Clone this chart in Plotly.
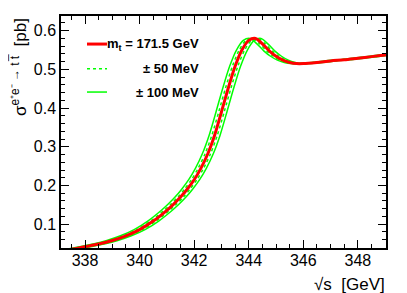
import plotly.graph_objects as go

# Central curve (m_t = 171.5 GeV)
sqrt_s = [337.0, 337.5, 338.0, 338.5, 339.0, 339.5, 340.0, 340.5, 341.0, 341.25,
          341.5, 341.75, 342.0, 342.25, 342.5, 342.75, 343.0, 343.25, 343.5,
          343.75, 344.0, 344.25, 344.5, 344.75, 345.0, 345.25, 345.5, 345.75,
          346.0, 346.5, 347.0, 347.5, 348.0, 348.5, 349.0, 349.5]
sigma = [0.030, 0.035, 0.042, 0.049, 0.058, 0.070, 0.086, 0.108, 0.136, 0.152,
         0.170, 0.191, 0.215, 0.245, 0.282, 0.330, 0.390, 0.452, 0.508,
         0.550, 0.575, 0.580, 0.566, 0.548, 0.534, 0.524, 0.518, 0.515,
         0.515, 0.518, 0.522, 0.525, 0.529, 0.533, 0.537, 0.541]

# mass variations (GeV) -> threshold shift in sqrt(s) of 2*dm
dm_dotted = [-0.050, 0.050]
dm_solid = [-0.100, 0.100]

x_ticks = [338, 340, 342, 344, 346, 348]
y_ticks = [0.1, 0.2, 0.3, 0.4, 0.5, 0.6]

GREEN = "#00ff00"
RED = "#ff0000"
FONT = "Liberation Sans, Arial, Helvetica, sans-serif"

fig = go.Figure()
for dm in dm_solid:
    fig.add_trace(go.Scatter(x=[v + 2 * dm for v in sqrt_s], y=sigma, mode="lines",
                             line=dict(color=GREEN, width=1.5, shape="spline", smoothing=0.8),
                             showlegend=False, hoverinfo="skip"))
for dm in dm_dotted:
    fig.add_trace(go.Scatter(x=[v + 2 * dm for v in sqrt_s], y=sigma, mode="lines",
                             line=dict(color=GREEN, width=1.5, dash="dot", shape="spline",
                                       smoothing=0.8),
                             showlegend=False, hoverinfo="skip"))
fig.add_trace(go.Scatter(x=sqrt_s, y=sigma, mode="lines",
                         line=dict(color=RED, width=3, shape="spline", smoothing=0.8),
                         showlegend=False, hoverinfo="skip"))

axis_common = dict(showline=True, linecolor="black", linewidth=1.5, mirror="ticks",
                   ticks="inside", ticklen=8, tickwidth=1, tickcolor="black",
                   showgrid=False, zeroline=False,
                   tickfont=dict(family=FONT, size=16, color="black"))

fig.update_xaxes(range=[337.12, 349.03], tickvals=x_ticks,
                 ticktext=[str(v) for v in x_ticks], ticklabelstandoff=-3,
                 minor=dict(dtick=0.5, tick0=338, ticks="inside", ticklen=4,
                            tickcolor="black", tickwidth=1, showgrid=False),
                 **axis_common)
fig.update_yaxes(range=[0.0385, 0.638], tickvals=y_ticks,
                 ticktext=["%.1f" % v for v in y_ticks],
                 minor=dict(dtick=0.02, tick0=0, ticks="inside", ticklen=4,
                            tickcolor="black", tickwidth=1, showgrid=False),
                 **axis_common)

# page layout (the page body has an 8 px margin, compensated here)
W, H = 407, 293
OFF = 8
L, R, T, B = 61, 21, 14, 45          # plot-area edges in window pixels
pw, ph = W - L - R, H - T - B

def px2paper(xp, yp):
    return (xp - L) / pw, 1 - (yp - T) / ph

# Legend (drawn manually to mimic the ROOT layout)
leg = [("<b>m<sub>t</sub> = 171.5 GeV</b>", RED, 3, "solid", 42.3),
       ("<b>± 50 MeV</b>", GREEN, 1.5, "dot", 67.3),
       ("<b>± 100 MeV</b>", GREEN, 1.5, "solid", 90.7)]
for text, col, lw, dash, yp in leg:
    x0, y0 = px2paper(87, yp)
    x1, _ = px2paper(107, yp)
    fig.add_shape(type="line", xref="paper", yref="paper", x0=x0, x1=x1, y0=y0, y1=y0,
                  line=dict(color=col, width=lw, dash=dash))
    xt, yt = px2paper(201, yp)
    fig.add_annotation(text=text, xref="paper", yref="paper", x=xt, y=yt,
                       xanchor="right", yanchor="middle", showarrow=False,
                       font=dict(family=FONT, size=13, color="black"))

# Axis titles
fig.add_annotation(text="σ<sup>e⁺e⁻ → t t̅</sup>  [pb]", xref="paper", yref="paper",
                   x=0, y=1, xshift=-42, xanchor="center", yanchor="top",
                   textangle=-90, showarrow=False,
                   font=dict(family=FONT, size=17, color="black"))
fig.add_annotation(text="√s  [GeV]", xref="paper", yref="paper",
                   x=1, y=0, yshift=-25, xshift=1, xanchor="right", yanchor="top",
                   showarrow=False, font=dict(family=FONT, size=17, color="black"))

fig.update_layout(width=W, height=H,
                  margin=dict(l=L - OFF, r=R + OFF, t=T - OFF, b=B + OFF),
                  paper_bgcolor="white", plot_bgcolor="white")
fig.write_html("out.html")
